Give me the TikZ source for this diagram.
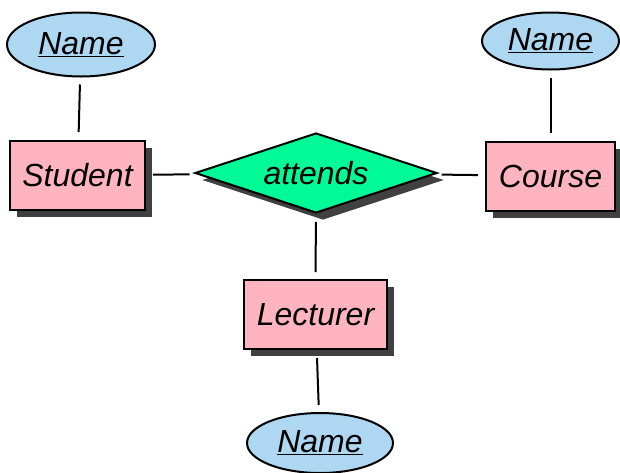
\documentclass[tikz,border=0pt]{standalone}
\usepackage{fontspec}
\setmainfont{Liberation Sans}
\usetikzlibrary{shapes,positioning,shadows}
\definecolor{entpink}{RGB}{255,180,192}
\definecolor{attblue}{RGB}{174,216,242}
\definecolor{relgreen}{RGB}{0,250,150}
\newcommand{\erfont}{\fontsize{32pt}{38pt}\selectfont\itshape}

\begin{document}
\begin{tikzpicture}[x=1pt,y=-1pt]

\tikzset{
	entity/.style={
		draw=black,
		rectangle,
		line width=2pt,
		fill=entpink,
		minimum height=69pt,
		inner sep=0pt,
		text centered,
		drop shadow={shadow xshift=7pt,shadow yshift=-7pt,fill=black!75,opacity=1},
		font=\erfont},
	attrib/.style={
		draw=black,
		ellipse,
		line width=2pt,
		fill=attblue,
		inner sep=0pt,
		text centered,
		font=\erfont},
	relship/.style={
		draw=black,
		diamond,
		aspect=3,
		line width=2pt,
		fill=relgreen,
		inner sep=0pt,
		minimum width=242pt,
		minimum height=80pt,
		drop shadow={shadow xshift=7pt,shadow yshift=-7pt,fill=black!75,opacity=1},
		font=\erfont},
	link/.style={
		-,
		line width=2pt,
		shorten <=7pt,
		shorten >=8pt}
}

\useasboundingbox (0,0) rectangle (620,472);

\node[relship,anchor=center] (att) at (316,173) {attends};

\node[entity,minimum width=135pt,left=238.5pt of att.center,anchor=center,yshift=-2.5pt] (stu) {Student}
   edge[link] (att);

\node[entity,minimum width=129pt,right=234.5pt of att.center,anchor=center,yshift=-3pt] (crs) {Course}
   edge[link] (att);

\node[entity,minimum width=143pt,below=141.5pt of att.center,anchor=center,xshift=-0.5pt] (lec) {Lecturer}
   edge[link] (att);

\node[attrib,minimum width=148pt,minimum height=64pt,above=131pt of stu.center,anchor=center,xshift=3.5pt] (stuname) {\underline{Name}}
   edge[link] (stu);

\node[attrib,minimum width=137pt,minimum height=57pt,above=135pt of crs.center,anchor=center] (crsname) {\underline{Name}}
   edge[link] (crs);

\node[attrib,minimum width=146pt,minimum height=60pt,below=128.5pt of lec.center,anchor=center,xshift=4.5pt] (lecname) {\underline{Name}}
   edge[link] (lec);

\end{tikzpicture}
\end{document}
